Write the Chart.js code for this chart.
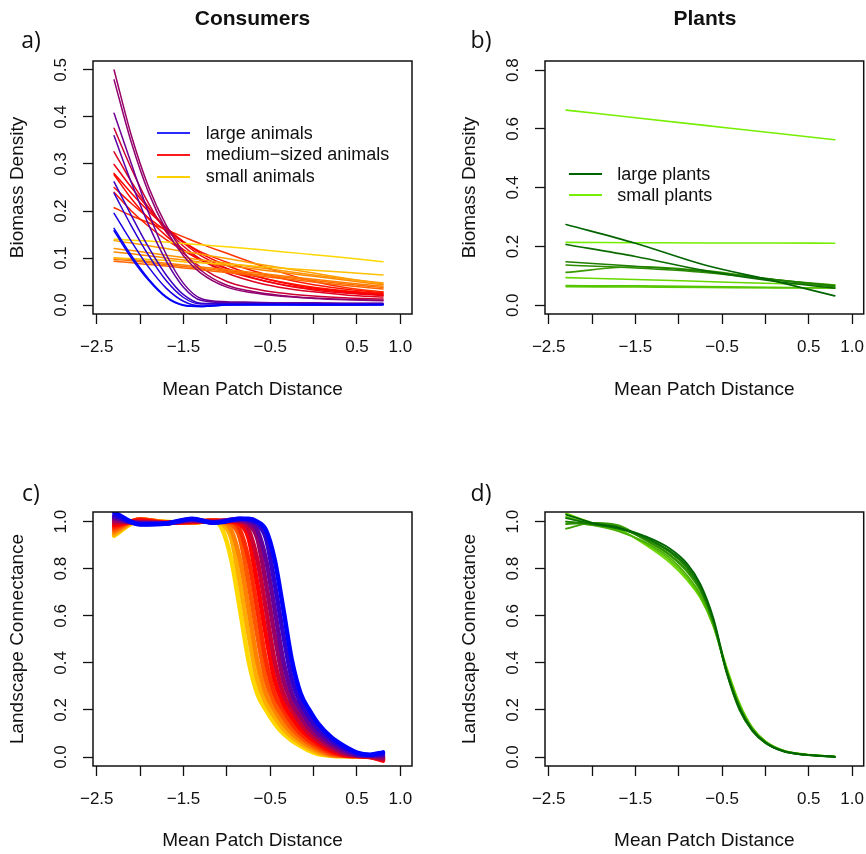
<!DOCTYPE html>
<html>
<head>
<meta charset="utf-8">
<script src="https://cdn.jsdelivr.net/npm/chart.js@4.4.1/dist/chart.umd.min.js"></script>
<style>
  html, body { margin: 0; padding: 0; background: #fff; }
  #wrap { position: relative; width: 866px; height: 854px; overflow: hidden; font-family: 'Liberation Sans', Arial, sans-serif; color: #111; }
  canvas { position: absolute; }
  .main { position: absolute; font-weight: bold; font-size: 21px; transform: translate(-50%, -50%); white-space: nowrap; }
  .tag { position: absolute; font-family: 'Open Sans', sans-serif; font-size: 23px; transform: translate(-50%, -50%); }
  .legend { position: absolute; font-size: 18px; }
  .legend div { position: relative; white-space: nowrap; }
  .legend span { position: absolute; left: 0; top: 50%; width: 33px; height: 2px; margin-top: -1px; }
</style>
</head>
<body>
<div id="wrap">
  <canvas id="panelA" width="433" height="427" style="left:0;top:0;width:433px;height:427px"></canvas>
  <canvas id="panelB" width="433" height="427" style="left:433px;top:0;width:433px;height:427px"></canvas>
  <canvas id="panelC" width="433" height="427" style="left:0;top:427px;width:433px;height:427px"></canvas>
  <canvas id="panelD" width="433" height="427" style="left:433px;top:427px;width:433px;height:427px"></canvas>

  <div class="main" style="left:252.5px;top:18px">Consumers</div>
  <div class="main" style="left:705px;top:18px">Plants</div>
  <div class="tag" style="left:31px;top:39px">a)</div>
  <div class="tag" style="left:481px;top:39px">b)</div>
  <div class="tag" style="left:31px;top:492px">c)</div>
  <div class="tag" style="left:481px;top:492px">d)</div>

  <div class="legend" style="left:157px;top:122.5px">
    <div style="height:21.7px;line-height:21.7px;padding-left:48.7px"><span style="background:#2a2aff"></span>large animals</div>
    <div style="height:21.7px;line-height:21.7px;padding-left:48.7px"><span style="background:#ff1a1a"></span>medium−sized animals</div>
    <div style="height:21.7px;line-height:21.7px;padding-left:48.7px"><span style="background:#ffd000"></span>small animals</div>
  </div>
  <div class="legend" style="left:569px;top:163.5px">
    <div style="height:21px;line-height:21px;padding-left:48.3px"><span style="background:#006400"></span>large plants</div>
    <div style="height:21px;line-height:21px;padding-left:48.3px"><span style="background:#76ee00"></span>small plants</div>
  </div>
</div>

<script>
// shared x axis
const X_MIN = -2.543, X_MAX = 1.134;
const xTickValues = [-2.5, -2.0, -1.5, -1.0, -0.5, 0.0, 0.5, 1.0];
const xTickLabels = ['−2.5', '', '−1.5', '', '−0.5', '', '0.5', '1.0'];

// a) consumer biomass
const xA = [-2.3, -2.1, -1.9, -1.7, -1.5, -1.3, -1.0, -0.7, -0.4, 0.0, 0.4, 0.8];
const largeAnimals = [
  [0.163, 0.105, 0.055, 0.018, 0.000, -0.003, 0.000, 0.000, 0.000, 0.000, 0.000, 0.000],
  [0.158, 0.100, 0.052, 0.016, -0.001, -0.003, 0.000, 0.001, 0.001, 0.000, 0.000, 0.001],
  [0.195, 0.135, 0.080, 0.036, 0.008, -0.002, 0.001, 0.001, 0.001, 0.001, 0.001, 0.001],
  [0.238, 0.168, 0.105, 0.052, 0.016, 0.002, 0.002, 0.002, 0.002, 0.002, 0.002, 0.002],
  [0.262, 0.190, 0.122, 0.064, 0.022, 0.004, 0.003, 0.003, 0.003, 0.003, 0.002, 0.002],
  [0.360, 0.260, 0.170, 0.094, 0.038, 0.010, 0.005, 0.005, 0.004, 0.004, 0.003, 0.003],
  [0.408, 0.300, 0.195, 0.108, 0.046, 0.014, 0.007, 0.006, 0.005, 0.005, 0.004, 0.004],
  [0.479, 0.345, 0.238, 0.160, 0.105, 0.068, 0.038, 0.026, 0.019, 0.014, 0.011, 0.009],
  [0.500, 0.360, 0.250, 0.170, 0.113, 0.074, 0.042, 0.029, 0.021, 0.015, 0.012, 0.010]
];
const mediumAnimals = [
  [0.376, 0.290, 0.215, 0.155, 0.110, 0.080, 0.050, 0.035, 0.026, 0.019, 0.015, 0.013],
  [0.326, 0.262, 0.207, 0.162, 0.125, 0.097, 0.068, 0.050, 0.038, 0.028, 0.021, 0.017],
  [0.299, 0.250, 0.205, 0.165, 0.132, 0.105, 0.078, 0.058, 0.044, 0.032, 0.025, 0.020],
  [0.280, 0.238, 0.199, 0.165, 0.135, 0.110, 0.084, 0.064, 0.049, 0.036, 0.028, 0.023],
  [0.277, 0.226, 0.183, 0.147, 0.118, 0.095, 0.073, 0.057, 0.045, 0.034, 0.027, 0.021],
  [0.250, 0.216, 0.185, 0.158, 0.134, 0.113, 0.091, 0.073, 0.058, 0.043, 0.033, 0.026],
  [0.240, 0.200, 0.167, 0.139, 0.116, 0.097, 0.077, 0.062, 0.050, 0.038, 0.030, 0.024],
  [0.207, 0.190, 0.175, 0.160, 0.145, 0.130, 0.110, 0.090, 0.071, 0.050, 0.036, 0.028]
];
const smallAnimals = [
  [0.140, 0.138, 0.136, 0.134, 0.131, 0.128, 0.124, 0.119, 0.114, 0.107, 0.100, 0.092],
  [0.100, 0.099, 0.097, 0.095, 0.092, 0.090, 0.087, 0.083, 0.079, 0.074, 0.069, 0.064],
  [0.137, 0.132, 0.126, 0.120, 0.114, 0.108, 0.099, 0.089, 0.080, 0.068, 0.056, 0.045],
  [0.120, 0.116, 0.111, 0.106, 0.101, 0.096, 0.089, 0.081, 0.074, 0.064, 0.055, 0.047],
  [0.113, 0.109, 0.105, 0.100, 0.096, 0.091, 0.084, 0.077, 0.070, 0.061, 0.052, 0.043],
  [0.100, 0.097, 0.093, 0.089, 0.085, 0.081, 0.075, 0.069, 0.063, 0.055, 0.047, 0.040],
  [0.097, 0.094, 0.090, 0.086, 0.082, 0.078, 0.072, 0.066, 0.060, 0.052, 0.044, 0.037],
  [0.093, 0.090, 0.086, 0.083, 0.079, 0.075, 0.069, 0.063, 0.057, 0.049, 0.041, 0.034]
];
const largeAnimalColors = ['#0000ff', '#0a00f5', '#1a00e5', '#2b00d4', '#3d00c2', '#5c00a3', '#6e0091', '#8f0070', '#990066'];
const mediumAnimalColors = ['#cc0033', '#e0001f', '#f00010', '#ff0000', '#ff0a00', '#ff1400', '#ff1e00', '#ff3300'];
const smallAnimalColors = ['#ffd700', '#ffc000', '#ffa000', '#ff9400', '#ff8800', '#ff7c00', '#ff7000', '#ff6400'];

// b) plant biomass
const xB = [-2.3, -1.5, -0.7, 0.1, 0.8];
const largePlants = [
  [0.275, 0.211, 0.137, 0.083, 0.032],
  [0.207, 0.166, 0.118, 0.082, 0.058],
  [0.148, 0.133, 0.115, 0.088, 0.066],
  [0.137, 0.127, 0.112, 0.087, 0.062],
  [0.112, 0.131, 0.118, 0.088, 0.068]
];
const smallPlants = [
  [0.664, 0.638, 0.612, 0.586, 0.563],
  [0.214, 0.213, 0.212, 0.212, 0.211],
  [0.094, 0.088, 0.081, 0.074, 0.070],
  [0.067, 0.066, 0.064, 0.061, 0.058],
  [0.063, 0.062, 0.061, 0.059, 0.060]
];
const largePlantColors = ['#006400', '#0b6b00', '#1e7e00', '#2c8c00', '#3a9a00'];
const smallPlantColors = ['#76ee00', '#76ee00', '#66d800', '#55c400', '#5acb00'];

// c) consumer connectance (yellow -> blue)
const xC = [-2.3, -2.0, -1.7, -1.4, -1.15, -1.05, -0.95, -0.85, -0.75, -0.65, -0.55, -0.45, -0.35, -0.25, -0.15, -0.05, 0.05, 0.2, 0.35, 0.5, 0.65, 0.8];
const connConsumers = [
  [0.940, 1.005, 1.000, 0.995, 1.005, 0.965, 0.840, 0.630, 0.410, 0.270, 0.200, 0.143, 0.100, 0.070, 0.047, 0.027, 0.013, 0.006, 0.003, 0.003, 0.002, 0.000],
  [0.945, 1.008, 0.998, 0.995, 1.005, 0.990, 0.930, 0.740, 0.520, 0.330, 0.230, 0.170, 0.120, 0.085, 0.058, 0.036, 0.019, 0.007, 0.004, 0.003, 0.002, 0.000],
  [0.955, 1.010, 0.997, 0.996, 1.006, 1.000, 0.965, 0.840, 0.630, 0.410, 0.270, 0.200, 0.143, 0.100, 0.070, 0.047, 0.027, 0.009, 0.005, 0.003, 0.002, -0.002],
  [0.965, 1.010, 0.996, 0.997, 1.006, 1.000, 0.990, 0.930, 0.740, 0.520, 0.330, 0.230, 0.170, 0.120, 0.085, 0.058, 0.036, 0.013, 0.006, 0.003, 0.002, -0.006],
  [0.975, 1.008, 0.995, 0.998, 1.005, 1.002, 1.000, 0.965, 0.840, 0.630, 0.410, 0.270, 0.200, 0.143, 0.100, 0.070, 0.047, 0.019, 0.007, 0.004, 0.000, -0.012],
  [0.985, 1.005, 0.995, 1.000, 1.003, 1.003, 1.000, 0.990, 0.930, 0.740, 0.520, 0.330, 0.230, 0.170, 0.120, 0.085, 0.058, 0.027, 0.009, 0.005, 0.000, -0.015],
  [0.995, 1.000, 0.994, 1.003, 1.000, 1.004, 1.004, 1.000, 0.965, 0.840, 0.630, 0.410, 0.270, 0.200, 0.143, 0.100, 0.070, 0.036, 0.013, 0.006, 0.002, -0.010],
  [1.005, 0.997, 0.993, 1.005, 0.998, 1.004, 1.006, 1.004, 0.990, 0.930, 0.740, 0.520, 0.330, 0.230, 0.170, 0.120, 0.085, 0.047, 0.019, 0.007, 0.004, -0.003],
  [1.015, 0.993, 0.993, 1.008, 0.997, 1.002, 1.008, 1.008, 1.000, 0.965, 0.840, 0.630, 0.410, 0.270, 0.200, 0.143, 0.100, 0.058, 0.027, 0.009, 0.006, 0.005],
  [1.025, 0.990, 0.992, 1.010, 0.996, 1.000, 1.008, 1.012, 1.006, 0.990, 0.930, 0.740, 0.520, 0.330, 0.230, 0.170, 0.120, 0.070, 0.036, 0.013, 0.008, 0.012],
  [1.040, 0.988, 0.992, 1.012, 0.995, 0.998, 1.006, 1.012, 1.012, 1.000, 0.965, 0.840, 0.630, 0.410, 0.270, 0.200, 0.143, 0.085, 0.047, 0.019, 0.010, 0.020]
];
const connConsumerColors = ['#ffd700', '#ffac00', '#ff8100', '#ff5600', '#ff2b00', '#ff0000', '#cc0033', '#990066', '#660099', '#3300cc', '#0000ff'];

// d) plant connectance
const xD = [-2.3, -2.0, -1.7, -1.4, -1.1, -0.9, -0.75, -0.6, -0.45, -0.3, -0.15, 0.0, 0.2, 0.45, 0.8];
const connPlants = [
  [1.030, 0.995, 0.975, 0.940, 0.885, 0.820, 0.735, 0.590, 0.370, 0.210, 0.115, 0.062, 0.026, 0.010, 0.001],
  [1.015, 0.990, 0.970, 0.935, 0.875, 0.810, 0.725, 0.580, 0.365, 0.205, 0.112, 0.060, 0.025, 0.010, 0.001],
  [1.000, 0.990, 0.975, 0.930, 0.870, 0.800, 0.715, 0.575, 0.360, 0.200, 0.110, 0.060, 0.025, 0.010, 0.002],
  [0.990, 0.995, 0.980, 0.925, 0.860, 0.790, 0.710, 0.575, 0.365, 0.210, 0.115, 0.062, 0.026, 0.010, 0.002],
  [0.970, 0.995, 0.985, 0.925, 0.855, 0.785, 0.705, 0.570, 0.370, 0.215, 0.118, 0.063, 0.027, 0.011, 0.002],
  [1.000, 0.985, 0.960, 0.915, 0.845, 0.770, 0.690, 0.560, 0.370, 0.220, 0.120, 0.065, 0.028, 0.011, 0.002],
  [1.020, 0.990, 0.965, 0.910, 0.835, 0.760, 0.680, 0.555, 0.375, 0.225, 0.123, 0.066, 0.028, 0.011, 0.002],
  [1.035, 0.995, 0.970, 0.905, 0.825, 0.750, 0.675, 0.560, 0.385, 0.230, 0.125, 0.067, 0.029, 0.012, 0.002]
];
const connPlantColors = ['#006400', '#0e7200', '#1d8100', '#2c9000', '#3ba000', '#4ab000', '#5cc400', '#70da00'];

Chart.defaults.font.family = "'Liberation Sans', Arial, sans-serif";
Chart.defaults.color = '#111';

const tickFont = { size: 17 };
const titleFont = { size: 19 };

// box around the plotting region
const frame = {
  id: 'frame',
  afterDraw(chart) {
    const { ctx, chartArea: a } = chart;
    ctx.save();
    ctx.strokeStyle = '#111';
    ctx.lineWidth = 1.5;
    ctx.strokeRect(a.left, a.top, a.right - a.left, a.bottom - a.top);
    ctx.restore();
  }
};

function toSeries(groups, colors) {
  return groups.map((values, i) => ({ values, color: colors[i] }));
}

function drawPanel(id, p) {
  const datasets = p.series.map(s => ({
    data: p.xs.map((x, i) => ({ x: x, y: s.values[i] })),
    borderColor: s.color,
    borderWidth: p.lineWidth,
    pointRadius: 0,
    cubicInterpolationMode: 'monotone',
    borderCapStyle: 'round',
    borderJoinStyle: 'round',
    fill: false
  }));

  new Chart(document.getElementById(id), {
    type: 'line',
    data: { datasets },
    options: {
      responsive: false,
      animation: false,
      devicePixelRatio: 1,
      layout: { padding: p.padding },
      plugins: { legend: { display: false }, tooltip: { enabled: false } },
      scales: {
        x: {
          type: 'linear',
          min: X_MIN,
          max: X_MAX,
          afterBuildTicks: s => { s.ticks = xTickValues.map(v => ({ value: v })); },
          afterFit: s => { s.height = p.xHeight; s.paddingLeft = 0; s.paddingRight = 0; },
          ticks: {
            autoSkip: false, maxRotation: 0, minRotation: 0, font: tickFont, padding: 13,
            callback: (v, i) => xTickLabels[i]
          },
          grid: { drawOnChartArea: false, drawTicks: true, tickLength: 10, tickColor: '#111', tickWidth: 1.3 },
          border: { display: false },
          title: { display: true, text: 'Mean Patch Distance', font: titleFont, padding: { top: 0, bottom: p.xTitlePad } }
        },
        y: {
          type: 'linear',
          min: p.yMin,
          max: p.yMax,
          afterBuildTicks: s => { s.ticks = p.yTicks.map(v => ({ value: v })); },
          afterFit: s => { s.width = p.yWidth; s.paddingTop = 0; s.paddingBottom = 0; },
          ticks: {
            minRotation: 90, maxRotation: 90, crossAlign: 'center', font: tickFont, padding: p.yTickPad,
            callback: v => v.toFixed(1)
          },
          grid: { drawOnChartArea: false, drawTicks: true, tickLength: 10, tickColor: '#111', tickWidth: 1.3 },
          border: { display: false },
          title: { display: true, text: p.yTitle, font: titleFont, padding: { top: p.yTitlePad, bottom: 0 } }
        }
      }
    },
    plugins: [frame]
  });
}

drawPanel('panelA', {
  xs: xA,
  series: [].concat(
    toSeries(largeAnimals, largeAnimalColors),
    toSeries(smallAnimals, smallAnimalColors),
    toSeries(mediumAnimals, mediumAnimalColors)
  ),
  lineWidth: 1.5,
  padding: { left: 0, top: 61, right: 21, bottom: 13 },
  xHeight: 100, xTitlePad: 12.6,
  yWidth: 93, yTickPad: 9.5, yTitlePad: 6.6,
  yMin: -0.0191, yMax: 0.5191, yTicks: [0, 0.1, 0.2, 0.3, 0.4, 0.5],
  yTitle: 'Biomass Density'
});

drawPanel('panelB', {
  xs: xB,
  series: [].concat(
    toSeries(largePlants, largePlantColors),
    toSeries(smallPlants, smallPlantColors)
  ),
  lineWidth: 1.6,
  padding: { left: 0, top: 61, right: 2.3, bottom: 13 },
  xHeight: 100, xTitlePad: 12.6,
  yWidth: 112, yTickPad: 10.2, yTitlePad: 25.3,
  yMin: -0.0296, yMax: 0.831, yTicks: [0, 0.2, 0.4, 0.6, 0.8],
  yTitle: 'Biomass Density'
});

drawPanel('panelC', {
  xs: xC,
  series: toSeries(connConsumers, connConsumerColors).reverse(),
  lineWidth: 4.5,
  padding: { left: 0, top: 85, right: 21, bottom: 0 },
  xHeight: 88, xTitlePad: 1.6,
  yWidth: 93, yTickPad: 9.5, yTitlePad: 6.6,
  yMin: -0.038, yMax: 1.041, yTicks: [0, 0.2, 0.4, 0.6, 0.8, 1.0],
  yTitle: 'Landscape Connectance'
});

drawPanel('panelD', {
  xs: xD,
  series: toSeries(connPlants, connPlantColors),
  lineWidth: 1.8,
  padding: { left: 0, top: 85, right: 2.3, bottom: 0 },
  xHeight: 88, xTitlePad: 1.6,
  yWidth: 112, yTickPad: 10.2, yTitlePad: 25.3,
  yMin: -0.038, yMax: 1.041, yTicks: [0, 0.2, 0.4, 0.6, 0.8, 1.0],
  yTitle: 'Landscape Connectance'
});
</script>
</body>
</html>
